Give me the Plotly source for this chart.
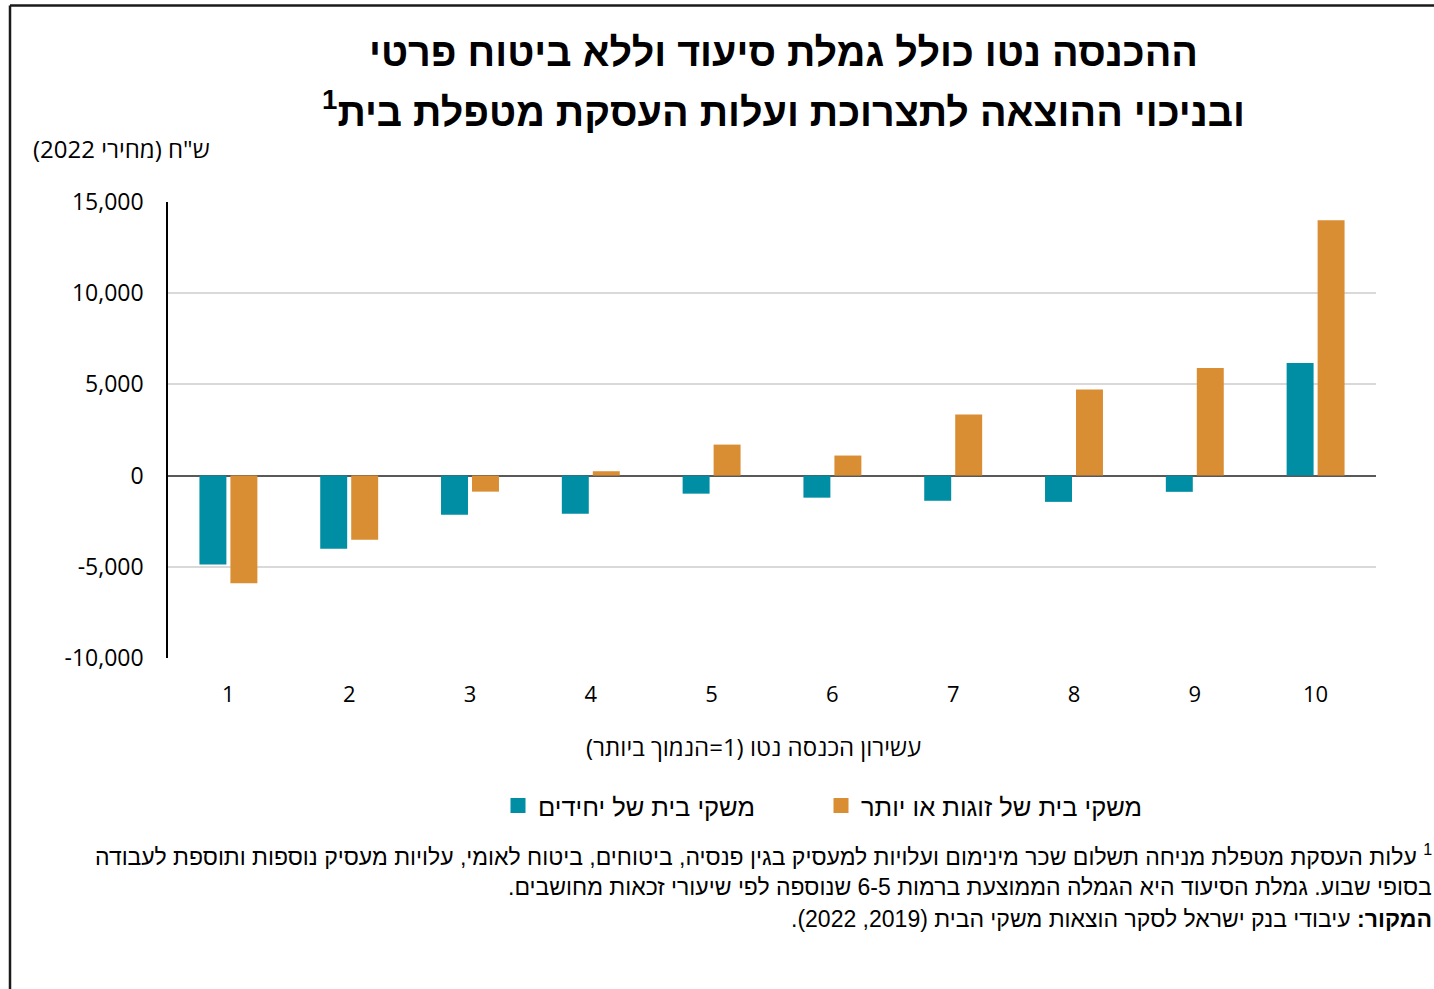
import plotly.graph_objects as go

RLE, PDF = "\u202b", "\u202c"

deciles = ["1", "2", "3", "4", "5", "6", "7", "8", "9", "10"]
singles = [-4870, -4010, -2150, -2090, -990, -1210, -1380, -1440, -890, 6180]
couples = [-5900, -3520, -880, 240, 1700, 1100, 3350, 4720, 5900, 14000]
series_names = ["משקי בית של יחידים", "משקי בית של זוגות או יותר"]
colors = ["#008ea4", "#da8e33"]

y_tickvals = [-10000, -5000, 0, 5000, 10000, 15000]
y_ticktext = ["-10,000", "-5,000", "0", "5,000", "10,000", "15,000"]

title_lines = ["ההכנסה נטו כולל גמלת סיעוד וללא ביטוח פרטי",
               "ובניכוי ההוצאה לתצרוכת ועלות העסקת מטפלת בית"]
unit_label = 'ש"ח (מחירי 2022)'
x_title = "עשירון הכנסה נטו (1=הנמוך ביותר)"
foot1 = "עלות העסקת מטפלת מניחה תשלום שכר מינימום ועלויות למעסיק בגין פנסיה, ביטוחים, ביטוח לאומי, עלויות מעסיק נוספות ותוספת לעבודה"
foot2 = "בסופי שבוע. גמלת הסיעוד היא הגמלה הממוצעת ברמות 6-5 שנוספה לפי שיעורי זכאות מחושבים."
foot3_bold = "המקור:"
foot3 = "עיבודי בנק ישראל לסקר הוצאות משקי הבית (2019, 2022)."

NARROW = "Liberation Sans Narrow, Arial Narrow, Liberation Sans, sans-serif"
SANS = "Open Sans, Noto Sans, sans-serif"

W, H = 1434, 989
L, R, T, B = 168, 58, 202, 331
pw, ph = W - L - R, H - T - B


def px(x):
    return (x - L) / pw


def py(y):
    return (H - B - y) / ph


fig = go.Figure()
for name, vals, c in zip(series_names, [singles, couples], colors):
    fig.add_trace(go.Bar(x=deciles, y=vals, name=name, marker_color=c,
                         marker_line_width=0, showlegend=False))
# legend entries with larger square swatches
for name, c in zip(series_names, colors):
    fig.add_trace(go.Scatter(x=[None], y=[None], mode="markers", name=name,
                             marker=dict(symbol="square", size=15, color=c)))

annotations = [
    dict(text=RLE + "<b>" + title_lines[0] + "</b>" + PDF, x=px(783), y=py(52),
         xref="paper", yref="paper", showarrow=False, xanchor="center", yanchor="middle",
         font=dict(family=NARROW, size=39.5, color="#000000")),
    dict(text=RLE + "<b>" + title_lines[1] + "<sup>1</sup></b>" + PDF, x=px(783), y=py(109),
         xref="paper", yref="paper", showarrow=False, xanchor="center", yanchor="middle",
         font=dict(family=NARROW, size=39.5, color="#000000")),
    dict(text=RLE + unit_label + PDF, x=px(212), y=py(148), xref="paper", yref="paper",
         showarrow=False, xanchor="right", yanchor="middle",
         font=dict(family=SANS, size=24, color="#000000")),
    dict(text=RLE + x_title + PDF, x=px(753), y=py(746), xref="paper", yref="paper",
         showarrow=False, xanchor="center", yanchor="middle",
         font=dict(family=SANS, size=24, color="#000000")),
    dict(text=RLE + "<sup>1</sup> " + foot1 + PDF, x=px(1434), y=py(855), xref="paper", yref="paper",
         showarrow=False, xanchor="right", yanchor="middle",
         font=dict(family=NARROW, size=23, color="#000000")),
    dict(text=RLE + foot2 + PDF, x=px(1434), y=py(887), xref="paper", yref="paper",
         showarrow=False, xanchor="right", yanchor="middle",
         font=dict(family=NARROW, size=23, color="#000000")),
    dict(text=RLE + "<b>" + foot3_bold + "</b> " + foot3 + PDF, x=px(1434), y=py(919),
         xref="paper", yref="paper", showarrow=False, xanchor="right", yanchor="middle",
         font=dict(family=NARROW, size=23, color="#000000")),
]

shapes = [
    dict(type="line", xref="paper", yref="paper", x0=px(10), x1=px(10), y0=py(1000), y1=py(5.5),
         line=dict(color="#1a1a1a", width=2.5)),
    dict(type="line", xref="paper", yref="paper", x0=px(10), x1=px(1450), y0=py(5.5), y1=py(5.5),
         line=dict(color="#1a1a1a", width=2.5)),
]

fig.update_layout(
    width=W, height=H,
    margin=dict(l=L, r=R, t=T, b=B),
    paper_bgcolor="white", plot_bgcolor="white",
    barmode="group", bargap=0.487, bargroupgap=0.13,
    font=dict(family=SANS, size=20, color="#000000"),
    annotations=annotations, shapes=shapes,
    showlegend=True,
    legend=dict(orientation="h", x=px(498), y=py(806), xanchor="left", yanchor="middle",
                font=dict(family=NARROW, size=25.5, color="#000000"),
                entrywidth=278, traceorder="normal"),
    xaxis=dict(type="category", showgrid=False, showline=False, ticks="",
               tickfont=dict(family=SANS, size=22, color="#000000"),
               ticklabelstandoff=21),
    yaxis=dict(range=[-10000, 15000], tickvals=y_tickvals, ticktext=y_ticktext,
               showgrid=True, gridcolor="#d9d9d9", gridwidth=1.5,
               zeroline=True, zerolinecolor="#595959", zerolinewidth=2,
               showline=True, linecolor="#000000", linewidth=1.5,
               ticks="", ticklabelstandoff=18,
               tickfont=dict(family=SANS, size=23, color="#000000")),
)

fig.write_html("out.html", config={"displayModeBar": False},
               post_script="document.body.style.margin='0';")
